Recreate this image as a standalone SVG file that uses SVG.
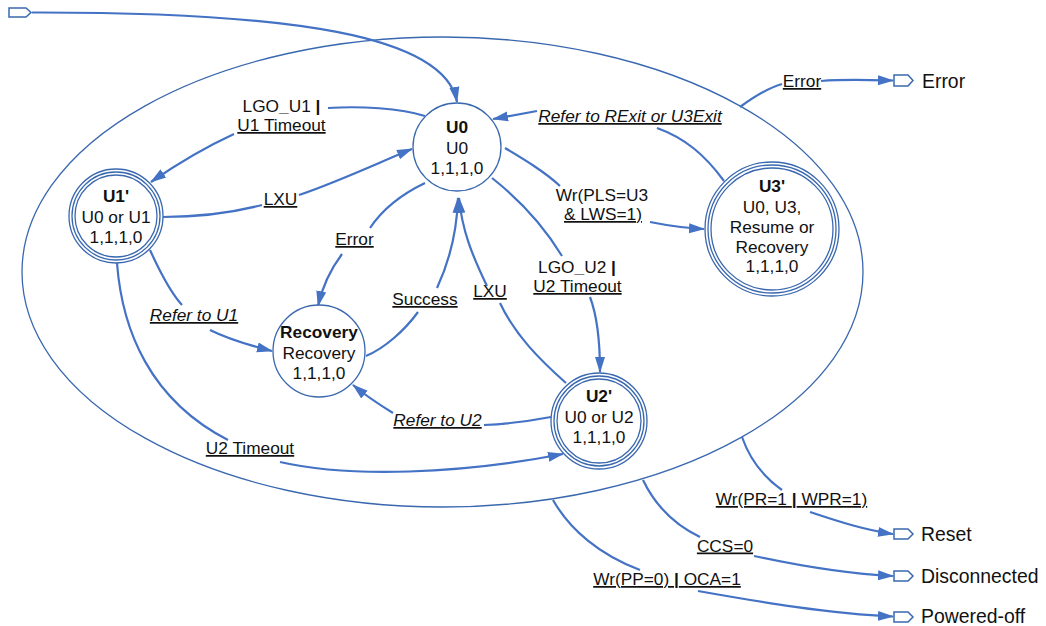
<svg xmlns="http://www.w3.org/2000/svg" width="1046" height="626" viewBox="0 0 1046 626">
<defs>
<marker id="arr" markerUnits="userSpaceOnUse" markerWidth="16" markerHeight="12" viewBox="0 0 16 12" refX="15" refY="6" orient="auto">
<path d="M0,1 L16,6 L0,11 z" fill="#4472C4"/>
</marker>
<style>
.ring{fill:#fff;stroke:#3A68AF;stroke-width:1.3}
.ringn{fill:none;stroke:#3A68AF;stroke-width:1.3}
.term{fill:#fff;stroke:#3A68AF;stroke-width:1.5}
.edge{fill:none;stroke:#4472C4;stroke-width:2.2;marker-end:url(#arr)}
text{font-family:"Liberation Sans",Arial,sans-serif;fill:#111}
.nt{font-size:17.3px;text-anchor:middle}
.b{font-weight:bold}
.lb{font-size:17.3px;text-anchor:middle}
.u{text-decoration:underline}
.i{font-style:italic}
.tt{font-size:19.4px}
</style>
</defs>

<g id="scope">
<ellipse cx="442.5" cy="272" rx="420.5" ry="235" class="ringn"/>
</g>

<g id="connectors">
<path class="edge" d="M32,12.5 C290,12 445,35 457,102"/>
<path class="edge" d="M425,116 C400,108 360,106 328,108 M234,134 C210,145 180,162 151,182"/>
<path class="edge" d="M163,217 C200,217 235,212 262,205 M299,195 C340,181 380,162 412,149"/>
<path class="edge" d="M425,183 C400,195 382,210 370,228 M342,254 C330,270 322,288 318,306"/>
<path class="edge" d="M366,356 C385,348 405,330 418,312 M437,288 C450,260 457,230 458,198"/>
<path class="edge" d="M566,383 C540,360 515,335 500,303 M487,286 C472,255 462,230 459,198"/>
<path class="edge" d="M492,178 C520,200 545,228 562,256 M590,297 C598,318 600,345 600,372"/>
<path class="edge" d="M505,148 C525,160 545,172 560,186 M650,222 C670,226 685,228 704,229"/>
<path class="edge" d="M724,181 C705,155 685,138 657,128 M537,111 L493,119"/>
<path class="edge" d="M740,107 C755,96 768,88 782,84 M821,81 C845,79 870,80 893,80.5"/>
<path class="edge" d="M150,250 C160,272 170,292 182,305 M210,330 C230,340 252,346 272,351"/>
<path class="edge" d="M551,417 C530,421 505,424 484,425 M393,413 C380,405 366,396 353,385"/>
<path class="edge" d="M117,263 C122,330 150,400 228,440 M280,462 C350,478 460,474 563,454"/>
<path class="edge" d="M742,437 C750,460 765,478 782,490 M810,512 C840,522 865,530 893,534"/>
<path class="edge" d="M643,480 C655,505 675,525 700,537 M754,556 C800,566 850,574 893,576"/>
<path class="edge" d="M553,500 C570,530 600,555 640,570 M698,591 C760,602 830,614 893,616.5"/>
</g>

<g id="labels">
<text class="lb" x="281.5" y="112">LGO<tspan class="b">_</tspan>U1 <tspan class="b">|</tspan></text>
<text class="lb u" x="281.5" y="131">U1 Timeout</text>
<text class="lb u" x="280.5" y="205">LXU</text>
<text class="lb u" x="354.5" y="245">Error</text>
<text class="lb u" x="425" y="305">Success</text>
<text class="lb u i" x="194" y="321">Refer to U1</text>
<text class="lb u" x="490" y="297">LXU</text>
<text class="lb" x="577" y="273">LGO<tspan class="b">_</tspan>U2 <tspan class="b">|</tspan></text>
<text class="lb u" x="577.5" y="292">U2 Timeout</text>
<text class="lb" x="602" y="201">Wr(PLS=U3</text>
<text class="lb u" x="603" y="220">&amp; LWS=1)</text>
<text class="lb u i" x="630" y="122">Refer to RExit or U3Exit</text>
<text class="lb u" x="802" y="87">Error</text>
<text class="lb u i" x="437.5" y="426">Refer to U2</text>
<text class="lb u" x="250" y="454">U2 Timeout</text>
<text class="lb u" x="791.5" y="505">Wr(PR=1 <tspan class="b">|</tspan> WPR=1)</text>
<text class="lb u" x="725" y="551.5">CCS=0</text>
<text class="lb u" x="667" y="585">Wr(PP=0) <tspan class="b">|</tspan> OCA=1</text>
</g>

<g id="start">
<path class="term" d="M9,8 H26 L31,12.5 L26,17 H9 Z"/>
</g>

<g id="U0">
<circle cx="457" cy="147" r="44" class="ring"/>
<text class="nt b" x="457" y="133">U0</text>
<text class="nt" x="457" y="154">U0</text>
<text class="nt" x="457" y="174">1,1,1,0</text>
</g>

<g id="U1p">
<circle cx="116" cy="216" r="47" class="ring"/>
<circle cx="116" cy="216" r="44" class="ringn"/>
<circle cx="116" cy="216" r="41" class="ringn"/>
<text class="nt b" x="116" y="202">U1'</text>
<text class="nt" x="116" y="222.5">U0 or U1</text>
<text class="nt" x="116" y="242.5">1,1,1,0</text>
</g>

<g id="Recovery">
<circle cx="319" cy="351" r="46" class="ring"/>
<text class="nt b" x="319" y="338">Recovery</text>
<text class="nt" x="319" y="359">Recovery</text>
<text class="nt" x="319" y="379">1,1,1,0</text>
</g>

<g id="U2p">
<circle cx="599" cy="421" r="48" class="ring"/>
<circle cx="599" cy="421" r="45" class="ringn"/>
<circle cx="599" cy="421" r="42" class="ringn"/>
<text class="nt b" x="599" y="402">U2'</text>
<text class="nt" x="599" y="423">U0 or U2</text>
<text class="nt" x="599" y="443">1,1,1,0</text>
</g>

<g id="U3p">
<circle cx="772" cy="229" r="67" class="ring"/>
<circle cx="772" cy="229" r="64" class="ringn"/>
<circle cx="772" cy="229" r="61" class="ringn"/>
<text class="nt b" x="772" y="192">U3'</text>
<text class="nt" x="772" y="213">U0, U3,</text>
<text class="nt" x="772" y="233">Resume or</text>
<text class="nt" x="772" y="253">Recovery</text>
<text class="nt" x="772" y="272">1,1,1,0</text>
</g>

<g id="Error">
<path class="term" d="M894,75 H908 L913,80.5 L908,86 H894 Z"/>
<text class="tt" x="922" y="88">Error</text>
</g>
<g id="Reset">
<path class="term" d="M894,529 H908 L913,534 L908,539 H894 Z"/>
<text class="tt" x="921" y="540.5">Reset</text>
</g>
<g id="Disconnected">
<path class="term" d="M894,571 H908 L913,576 L908,581 H894 Z"/>
<text class="tt" x="921" y="583">Disconnected</text>
</g>
<g id="Poweredoff">
<path class="term" d="M894,612 H908 L913,617 L908,622 H894 Z"/>
<text class="tt" x="921" y="623">Powered-off</text>
</g>
</svg>
